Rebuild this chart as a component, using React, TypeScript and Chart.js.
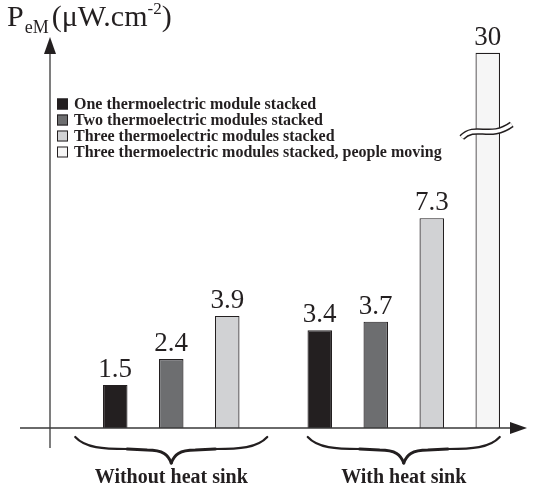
import { useEffect, useRef } from "react";
import { Chart, registerables } from "chart.js";

Chart.register(...registerables);

// ---- data ----
const categories = ["Without heat sink", "With heat sink"];
const seriesLabels = [
  "One thermoelectric module stacked",
  "Two thermoelectric modules stacked",
  "Three thermoelectric modules stacked",
  "Three thermoelectric modules stacked, people moving",
];
const oneModule: (number | null)[] = [1.5, 3.4];
const twoModules: (number | null)[] = [2.4, 3.7];
const threeModules: (number | null)[] = [3.9, 7.3];
const threeModulesMoving: (number | null)[] = [null, 30];
const seriesValues = [oneModule, twoModules, threeModules, threeModulesMoving];

// ---- axis (broken axis) ----
const yAxisMax = 13.6;
const breakDrawTop = 13.05; // bars beyond the axis break are drawn up to this height
const breakMark = 10.35; // where the wavy break symbol sits

// ---- style ----
const seriesColors = ["#231f20", "#6d6e70", "#d1d2d4", "#f6f6f6"];
const INK = "#231f20";
const SERIF = '"Liberation Serif", "Times New Roman", serif';

const decorPlugin = {
  id: "decor",
  afterDatasetsDraw(chart: any) {
    const { ctx, chartArea: ca, scales } = chart;
    const yScale = scales.y;
    const zeroY = yScale.getPixelForValue(0);
    const axisX = ca.left - 47;
    ctx.save();

    // value labels + axis break symbol
    ctx.fillStyle = INK;
    ctx.font = `27px ${SERIF}`;
    ctx.textAlign = "center";
    ctx.textBaseline = "alphabetic";
    chart.data.datasets.forEach((ds: any, i: number) => {
      const meta = chart.getDatasetMeta(i);
      meta.data.forEach((el: any, j: number) => {
        const v = seriesValues[i][j];
        if (v == null) return;
        ctx.fillStyle = INK;
        ctx.font = `27px ${SERIF}`;
        ctx.fillText(String(v), el.x, el.y - 8);
        if (v > breakDrawTop) {
          const yc = yScale.getPixelForValue(breakMark);
          const x0 = el.x - 26;
          const x1 = el.x + 24;
          const path = () => {
            ctx.beginPath();
            ctx.moveTo(x0, yc + 7);
            ctx.bezierCurveTo(x0 + 14, yc - 7, x0 + 28, yc + 10, x1, yc - 6);
          };
          ctx.lineCap = "butt";
          path();
          ctx.strokeStyle = INK;
          ctx.lineWidth = 6.5;
          ctx.stroke();
          path();
          ctx.strokeStyle = "#ffffff";
          ctx.lineWidth = 3.5;
          ctx.stroke();
        }
      });
    });

    // axes
    ctx.strokeStyle = "#3a3a3a";
    ctx.fillStyle = "#231f20";
    ctx.lineWidth = 1.3;
    ctx.beginPath();
    ctx.moveTo(axisX, zeroY + 20);
    ctx.lineTo(axisX, ca.top + 10);
    ctx.moveTo(axisX - 30, zeroY);
    ctx.lineTo(ca.right + 10, zeroY);
    ctx.stroke();
    // y arrow
    ctx.beginPath();
    ctx.moveTo(axisX, ca.top);
    ctx.lineTo(axisX + 6, ca.top + 17);
    ctx.lineTo(axisX - 6, ca.top + 17);
    ctx.closePath();
    ctx.fill();
    // x arrow
    const tipX = ca.right + 21;
    ctx.beginPath();
    ctx.moveTo(tipX, zeroY);
    ctx.lineTo(tipX - 17, zeroY - 6);
    ctx.lineTo(tipX - 17, zeroY + 6);
    ctx.closePath();
    ctx.fill();

    // braces + category labels
    const hw = 96;
    const y0 = zeroY + 9;
    const y1 = zeroY + 21;
    const y2 = zeroY + 35;
    chart.data.labels.forEach((lab: string, j: number) => {
      const xs: number[] = [];
      chart.data.datasets.forEach((ds: any, i: number) => {
        if (seriesValues[i][j] != null) xs.push(chart.getDatasetMeta(i).data[j].x);
      });
      const cx = xs.reduce((a, b) => a + b, 0) / xs.length;
      ctx.strokeStyle = INK;
      ctx.lineCap = "round";
      for (const s of [-1, 1]) {
        // outer thin part
        ctx.lineWidth = 2.2;
        ctx.beginPath();
        ctx.moveTo(cx + s * hw, y0);
        ctx.bezierCurveTo(cx + s * (hw - 10), y1 - 1, cx + s * (hw - 28), y1, cx + s * (hw - 52), y1);
        ctx.stroke();
        // thicker middle part
        ctx.lineWidth = 3;
        ctx.beginPath();
        ctx.moveTo(cx + s * (hw - 52), y1);
        ctx.lineTo(cx + s * 24, y1 + 1);
        ctx.bezierCurveTo(cx + s * 8, y1 + 1, cx + s * 3, y1 + 6, cx, y2);
        ctx.stroke();
      }
      ctx.fillStyle = INK;
      ctx.font = `bold 20px ${SERIF}`;
      ctx.textAlign = "center";
      ctx.fillText(lab, cx, zeroY + 55);
    });

    // legend
    const lx = axisX + 7;
    let ly = ca.top + 67;
    ctx.textAlign = "left";
    ctx.textBaseline = "middle";
    ctx.font = `bold 16px ${SERIF}`;
    chart.data.datasets.forEach((ds: any) => {
      ctx.fillStyle = ds.backgroundColor;
      ctx.fillRect(lx, ly - 5.5, 11, 11);
      ctx.strokeStyle = INK;
      ctx.lineWidth = 1;
      ctx.strokeRect(lx + 0.5, ly - 5, 10, 10);
      ctx.fillStyle = INK;
      ctx.fillText(ds.label, lx + 17, ly + 1);
      ly += 16;
    });

    // y axis title: P_eM (μW.cm^-2)
    ctx.textBaseline = "alphabetic";
    ctx.fillStyle = INK;
    let tx = 7;
    const base = 26;
    ctx.font = `30px ${SERIF}`;
    ctx.fillText("P", tx, base);
    tx += ctx.measureText("P").width + 1;
    ctx.font = `18px ${SERIF}`;
    ctx.fillText("eM", tx, base + 7);
    tx += ctx.measureText("eM").width + 3;
    ctx.font = `30px ${SERIF}`;
    ctx.fillText("(\u03bcW.cm", tx, base);
    tx += ctx.measureText("(\u03bcW.cm").width;
    ctx.font = `17px ${SERIF}`;
    ctx.fillText("-2", tx, base - 12);
    tx += ctx.measureText("-2").width;
    ctx.font = `30px ${SERIF}`;
    ctx.fillText(")", tx, base);

    ctx.restore();
  },
};

export default function App() {
  const ref = useRef<HTMLCanvasElement>(null);
  useEffect(() => {
    document.body.style.margin = "0";
    const chart = new Chart(ref.current as HTMLCanvasElement, {
      type: "bar",
      data: {
        labels: categories,
        datasets: seriesValues.map((vals, i) => ({
          label: seriesLabels[i],
          data: vals.map((v) => (v == null ? null : Math.min(v, breakDrawTop))),
          backgroundColor: seriesColors[i],
          borderColor: INK,
          borderWidth: 1.2,
          categoryPercentage: 1.0954,
          barPercentage: 0.4375,
        })),
      },
      options: {
        responsive: false,
        animation: false,
        layout: { padding: { left: 97, right: 30, top: 37, bottom: 63 } },
        scales: {
          x: { display: false },
          y: { display: false, min: 0, max: yAxisMax },
        },
        plugins: { legend: { display: false }, tooltip: { enabled: false } },
      },
      plugins: [decorPlugin],
    } as any);
    return () => chart.destroy();
  }, []);
  return (
    <div style={{ width: 536, height: 491 }}>
      <canvas ref={ref} width={536} height={491} style={{ display: "block" }} />
    </div>
  );
}
